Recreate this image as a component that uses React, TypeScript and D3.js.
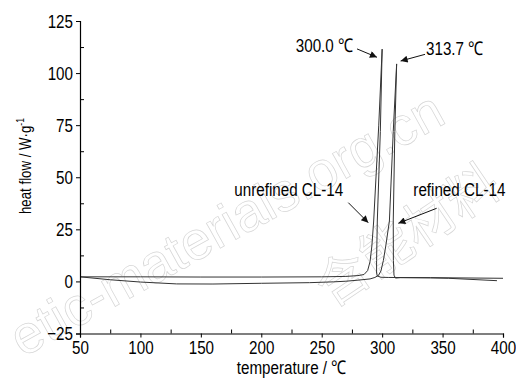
import React, { useRef, useEffect } from 'react'
import * as d3 from 'd3'

// temperature (°C) and heat flow (W/g)
const unrefinedT = [50, 100, 150, 200, 250, 270, 280, 285, 288, 290, 291.5, 293, 297.2, 300, 298.5, 296, 295.4, 295.4, 296, 299, 305, 340, 400]
const unrefinedHF = [2.2, 2.2, 2.1, 2.1, 2.2, 2.4, 2.8, 3.3, 5.2, 9.5, 17, 29, 75, 111.5, 72, 29, 10, 4, 2.6, 2.0, 1.9, 1.8, 1.5]

const refinedT = [50, 75, 100, 130, 160, 200, 240, 260, 270, 280, 290, 294, 297, 299, 301, 303, 306, 309.2, 312, 310.5, 309.2, 309.3, 309.8, 311, 315, 340, 355, 395]
const refinedHF = [2.2, 0.8, -0.3, -1.2, -1.25, -0.9, -0.6, -0.2, 0.1, 0.6, 1.2, 1.9, 2.9, 5, 10, 17, 29, 72, 104.4, 72, 29, 10, 3, 1.6, 1.8, 1.7, 1.5, 0.35]

const xTicks = [50, 100, 150, 200, 250, 300, 350, 400]
const yTicks = [-25, 0, 25, 50, 75, 100, 125]

// annotations: label, text anchor point, arrow from -> to (data units)
const notes = [
  { text: '300.0 ℃', tx: 275.9, tv: 110.1, anchor: 'end', x1: 279.2, v1: 111.6, x2: 295.7, v2: 107.6 },
  { text: '313.7 ℃', tx: 336.3, tv: 108.7, anchor: 'start', x1: 335.5, v1: 109, x2: 315.3, v2: 105.8 },
  { text: 'unrefined CL-14', tx: 267.8, tv: 41, anchor: 'end', x1: 272, v1: 37.8, x2: 288.5, v2: 28.2 },
  { text: 'refined CL-14', tx: 325.8, tv: 41, anchor: 'start', x1: 345.1, v1: 35.1, x2: 313.4, v2: 27.9 }
]

const font = "'Liberation Sans', Arial, sans-serif"
const squeeze = 0.8 // the figure uses a condensed face

function NText({ x, y, anchor = 'start', children }: any) {
  return (
    <text transform={`translate(${x},${y}) scale(${squeeze},1)`} textAnchor={anchor}>
      {children}
    </text>
  )
}

export default function App() {
  const axisRef = useRef<SVGGElement>(null)

  const x = d3.scaleLinear().domain([50, 400]).range([80, 503])
  const y = d3.scaleLinear().domain([-25, 125]).range([333.5, 21])

  const line = d3
    .line<[number, number]>()
    .x(d => x(d[0]))
    .y(d => y(d[1]))

  const unrefined = unrefinedT.map((t, i) => [t, unrefinedHF[i]] as [number, number])
  const refined = refinedT.map((t, i) => [t, refinedHF[i]] as [number, number])

  useEffect(() => {
    const g = d3.select(axisRef.current)
    g.selectAll('*').remove()

    const xMinor = d3.range(75, 400, 50)
    const yMinor = d3.range(-12.5, 125, 25)

    const xg = g.append('g').attr('transform', `translate(0,${y(-25)})`)
    xg.call(d3.axisBottom(x).tickValues(xTicks).tickSize(4).tickPadding(3).tickFormat(d3.format('d')))
    xg.append('g').call(d3.axisTop(x).tickValues(xMinor).tickSize(4).tickFormat(() => ''))
      .select('.domain').remove()

    const yg = g.append('g').attr('transform', `translate(${x(50)},0)`)
    yg.call(d3.axisLeft(y).tickValues(yTicks).tickSize(4).tickPadding(3).tickFormat(d3.format('d')))
    yg.append('g').call(d3.axisRight(y).tickValues(yMinor).tickSize(4).tickFormat(() => ''))
      .select('.domain').remove()

    g.selectAll('.domain').attr('stroke', '#000').attr('stroke-width', 1.2)
    g.selectAll('.tick line').attr('stroke', '#000')
    g.selectAll('.tick text')
      .attr('fill', '#000')
      .attr('transform', `scale(${squeeze},1)`)
      .style('font-family', font)
      .style('font-size', '19px')
    // keep left labels flush to the tick after squeezing
    yg.selectAll('.tick text').attr('x', -7 / squeeze)
  }, [])

  return (
    <div>
      <style>{'body{margin:0}'}</style>
      <svg width={516} height={382} style={{ display: 'block' }}>
        <defs>
          <marker id="head" viewBox="0 0 10 10" refX="10" refY="5" markerWidth="9" markerHeight="7"
            markerUnits="userSpaceOnUse" orient="auto">
            <path d="M0,0 L10,5 L0,10 z" fill="#111" />
          </marker>
        </defs>
        <rect width={516} height={382} fill="#fff" />

        {/* watermark */}
        <g fill="none" stroke="#d6d6d6" strokeWidth={0.7} style={{ fontFamily: "'Liberation Sans', sans-serif" }}>
          <text x={0} y={0} fontSize={54} textAnchor="end" transform="translate(448,122) rotate(-29)">
            etic-materials.org.cn
          </text>
          <text x={0} y={0} fontSize={52} textAnchor="middle"
            transform="translate(418,250) rotate(-34)" style={{ fontFamily: "'Noto Sans CJK SC', sans-serif" }}>
            含能材料
          </text>
        </g>

        <path d={line(unrefined) || ''} fill="none" stroke="#333" strokeWidth={1} />
        <path d={line(refined) || ''} fill="none" stroke="#333" strokeWidth={1} />

        <g ref={axisRef} />

        <g style={{ fontFamily: font, fontSize: 19 }} fill="#000">
          {notes.map(n => (
            <g key={n.text}>
              <NText x={x(n.tx)} y={y(n.tv)} anchor={n.anchor}>{n.text}</NText>
              <line x1={x(n.x1)} y1={y(n.v1)} x2={x(n.x2)} y2={y(n.v2)} stroke="#111" strokeWidth={1}
                markerEnd="url(#head)" />
            </g>
          ))}
          <NText x={(x(50) + x(400)) / 2} y={374} anchor="middle">temperature / ℃</NText>
          <text transform={`translate(31,166) rotate(-90) scale(0.78,1)`} textAnchor="middle" fontSize={17}>
            heat flow / W·g<tspan dy={-7} fontSize={11}>-1</tspan>
          </text>
        </g>
      </svg>
    </div>
  )
}
